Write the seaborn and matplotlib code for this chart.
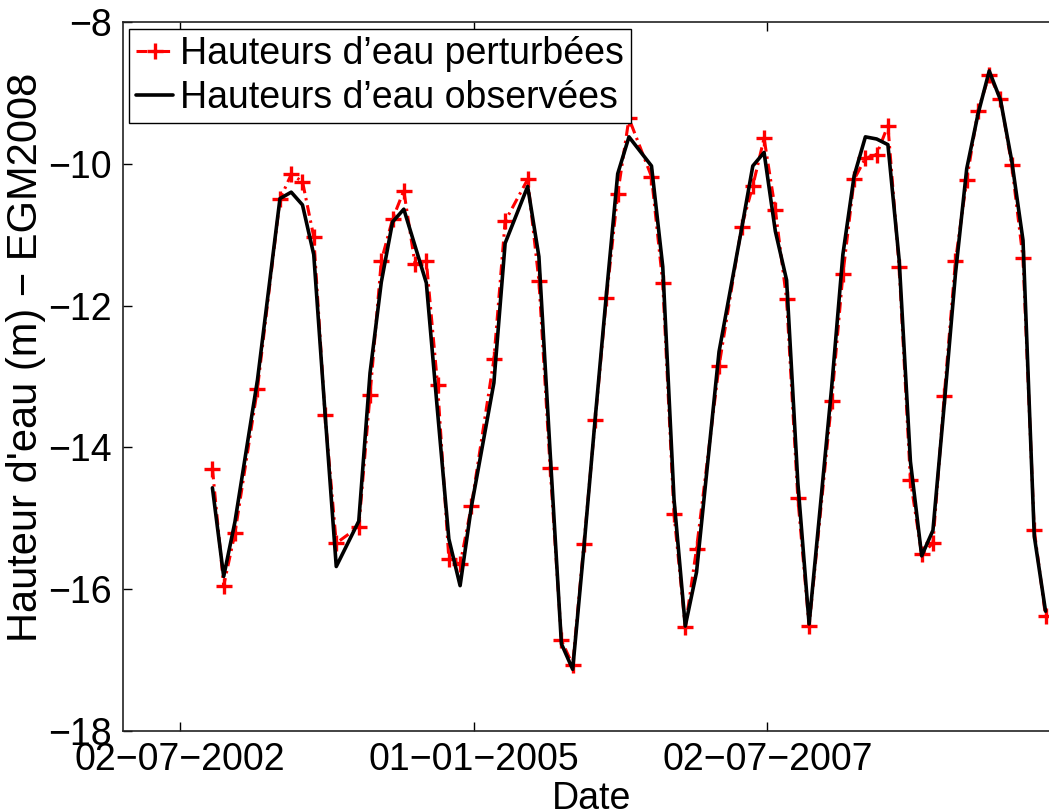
import matplotlib
matplotlib.use("Agg")
import matplotlib.pyplot as plt
import pandas as pd
import seaborn as sns

# Envisat pass dates (35-day cycle) and water levels (m, above EGM2008)
dates = [
    "2002-10-11", "2002-11-15", "2002-12-20", "2003-02-28", "2003-05-09",
    "2003-06-13", "2003-07-18", "2003-08-22", "2003-09-26", "2003-10-31",
    "2004-01-09", "2004-02-13", "2004-03-19", "2004-04-23", "2004-05-28",
    "2004-07-02", "2004-08-06", "2004-09-10", "2004-10-15", "2004-11-19",
    "2004-12-24", "2005-03-04", "2005-04-08", "2005-06-17", "2005-07-22",
    "2005-08-26", "2005-09-30", "2005-11-04", "2005-12-09", "2006-01-13",
    "2006-02-17", "2006-03-24", "2006-04-28", "2006-07-07", "2006-08-11",
    "2006-09-15", "2006-10-20", "2006-11-24", "2007-02-02", "2007-04-13",
    "2007-05-18", "2007-06-22", "2007-07-27", "2007-08-31", "2007-10-05",
    "2007-11-09", "2008-01-18", "2008-02-22", "2008-03-28", "2008-05-02",
    "2008-06-06", "2008-07-11", "2008-08-15", "2008-09-19", "2008-10-24",
    "2008-11-28", "2009-01-02", "2009-02-06", "2009-03-13", "2009-04-17",
    "2009-05-22", "2009-06-26", "2009-07-31", "2009-09-04", "2009-10-09",
    "2009-11-13",
]

perturbed = [
    -14.30, -15.95, -15.21, -13.17, -10.50, -10.15, -10.25, -11.03, -13.54, -15.35,
    -15.12, -13.26, -11.37, -10.78, -10.38, -11.42, -11.37, -13.12, -15.57, -15.65,
    -14.83, -12.76, -10.81, -10.22, -11.65, -14.29, -16.72, -17.07, -15.36, -13.62,
    -11.89, -10.42, -9.36, -10.18, -11.68, -14.94, -16.54, -15.43, -12.85, -10.89,
    -10.31, -9.64, -10.65, -11.91, -14.72, -16.52, -13.35, -11.56, -10.22, -9.92,
    -9.87, -9.46, -11.46, -14.46, -15.51, -15.35, -13.28, -11.37, -10.23, -9.25,
    -8.75, -9.08, -10.02, -11.33, -15.17, -16.38,
]

observed = [
    -14.57, -15.82, -15.05, -13.05, -10.49, -10.40, -10.58, -11.28, -13.51, -15.68,
    -15.04, -12.95, -11.67, -10.82, -10.64, -11.16, -11.68, -13.50, -15.29, -15.95,
    -14.84, -13.09, -11.12, -10.32, -11.31, -14.08, -16.77, -17.13, -15.41, -13.59,
    -11.83, -10.14, -9.62, -10.03, -11.45, -14.73, -16.52, -15.76, -12.65, -10.92,
    -10.03, -9.84, -10.95, -11.64, -14.50, -16.49, -13.16, -11.28, -10.17, -9.62,
    -9.65, -9.73, -11.36, -14.20, -15.53, -15.17, -13.40, -11.55, -10.07, -9.30,
    -8.69, -9.10, -9.96, -11.08, -15.25, -16.31,
]

tick_dates = ["2002-07-02", "2005-01-01", "2007-07-02"]
tick_labels = ["02\u221207\u22122002", "01\u221201\u22122005", "02\u221207\u22122007"]
y_ticks = [-18, -16, -14, -12, -10, -8]

label_perturbed = "Hauteurs d\u2019eau perturbées"
label_observed = "Hauteurs d\u2019eau observées"

sns.set_style("white")
plt.rcParams["font.family"] = ["Liberation Sans", "DejaVu Sans"]
plt.rcParams["axes.unicode_minus"] = True
plt.rcParams["text.color"] = "black"
plt.rcParams["axes.labelcolor"] = "black"
plt.rcParams["xtick.color"] = "black"
plt.rcParams["ytick.color"] = "black"

FS = 27

df = pd.DataFrame({
    "date": pd.to_datetime(dates),
    "perturbed": perturbed,
    "observed": observed,
})

W, H = 1049, 810
fig = plt.figure(figsize=(W / 100, H / 100), dpi=100)
ax = fig.add_axes([123 / W, 1 - 731 / H, 937 / W, (731 - 22) / H])

sns.lineplot(
    data=df, x="date", y="perturbed", ax=ax, estimator=None, sort=False,
    color="#ff0000", lw=2.2, linestyle=(0, (3.5, 1.6, 0.8, 1.6)),
    marker="+", markersize=12, markeredgewidth=2.4,
    markeredgecolor="#ff0000", label=label_perturbed,
)
sns.lineplot(
    data=df, x="date", y="observed", ax=ax, estimator=None, sort=False,
    color="black", lw=2.6, label=label_observed,
)

ax.set_xlim(pd.Timestamp("2002-01-06"), pd.Timestamp("2009-12-28"))
ax.set_ylim(-18, -8)
ax.set_xticks(pd.to_datetime(tick_dates))
ax.set_xticklabels(tick_labels)
ax.set_yticks(y_ticks)

ax.tick_params(axis="both", which="major", direction="in", length=6.5,
               width=1.0, colors="black", labelcolor="black", labelsize=FS,
               top=True, right=True, bottom=True, left=True)
ax.tick_params(axis="x", pad=8)
ax.tick_params(axis="y", pad=8)

for side in ["left", "right", "top", "bottom"]:
    ax.spines[side].set_visible(True)
    ax.spines[side].set_color("#222222")
    ax.spines[side].set_linewidth(1.2)

ax.set_xlabel("Date", fontsize=FS, labelpad=2, color="black")
ax.set_ylabel("Hauteur d'eau (m) \u2212 EGM2008", fontsize=30, color="black")
ax.yaxis.set_label_coords(-77 / 937, 0.527)

leg = ax.legend(
    loc="upper left", bbox_to_anchor=(6 / 937, (731 - 29) / 709),
    borderaxespad=0, fontsize=FS, frameon=True, fancybox=False,
    edgecolor="black", framealpha=1, handlelength=1.0,
    handletextpad=0.18, borderpad=0.18, labelspacing=0.22,
)
leg.get_frame().set_linewidth(1.0)
for t in leg.get_texts():
    t.set_color("black")

fig.savefig("out.png", dpi=100)
